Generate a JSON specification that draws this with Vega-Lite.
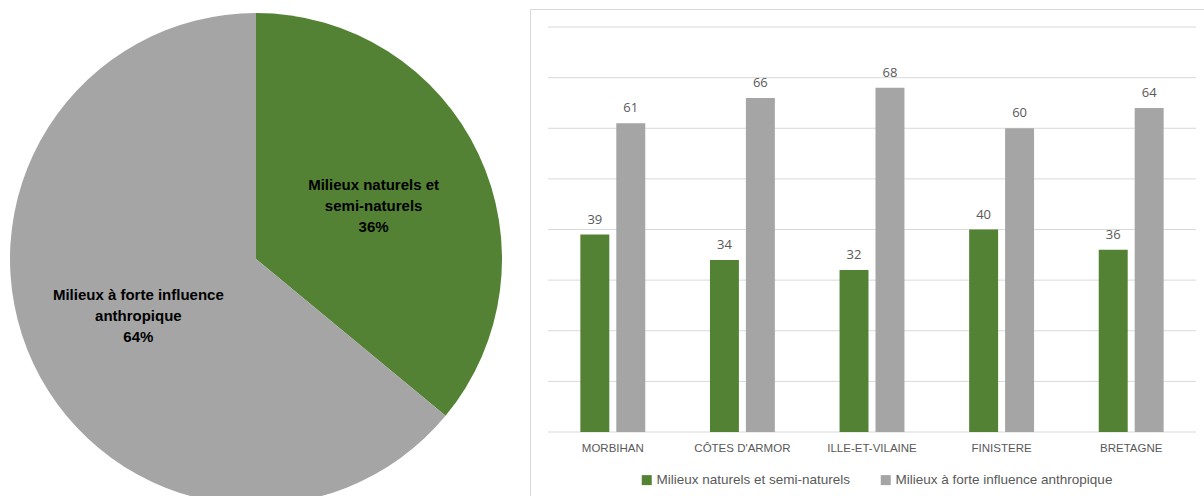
{
  "$schema": "https://vega.github.io/schema/vega-lite/v6.json",
  "padding": {"left": 0, "top": 8, "right": 0, "bottom": 0},
  "background": "white",
  "spacing": 17,
  "config": {"view": {"stroke": null}},
  "resolve": {"scale": {"color": "independent"}, "legend": {"color": "independent"}},
  "datasets": {
    "pie": [
      {"cat": "Milieux naturels et semi-naturels", "value": 36, "label": "Milieux naturels et\nsemi-naturels\n36%"},
      {"cat": "Milieux à forte influence anthropique", "value": 64, "label": "Milieux à forte influence\nanthropique\n64%"}
    ],
    "bars": [
      {"dep": "MORBIHAN", "series": "Milieux naturels et semi-naturels", "value": 39},
      {"dep": "MORBIHAN", "series": "Milieux à forte influence anthropique", "value": 61},
      {"dep": "CÔTES D'ARMOR", "series": "Milieux naturels et semi-naturels", "value": 34},
      {"dep": "CÔTES D'ARMOR", "series": "Milieux à forte influence anthropique", "value": 66},
      {"dep": "ILLE-ET-VILAINE", "series": "Milieux naturels et semi-naturels", "value": 32},
      {"dep": "ILLE-ET-VILAINE", "series": "Milieux à forte influence anthropique", "value": 68},
      {"dep": "FINISTERE", "series": "Milieux naturels et semi-naturels", "value": 40},
      {"dep": "FINISTERE", "series": "Milieux à forte influence anthropique", "value": 60},
      {"dep": "BRETAGNE", "series": "Milieux naturels et semi-naturels", "value": 36},
      {"dep": "BRETAGNE", "series": "Milieux à forte influence anthropique", "value": 64}
    ],
    "grid": [
      {"v": 0}, {"v": 10}, {"v": 20}, {"v": 30}, {"v": 40}, {"v": 50}, {"v": 60}, {"v": 70}, {"v": 80}
    ]
  },
  "hconcat": [
    {
      "width": 512,
      "height": 500,
      "data": {"name": "pie"},
      "encoding": {
        "theta": {"field": "value", "type": "quantitative", "stack": true}
      },
      "layer": [
        {
          "mark": {"type": "arc", "outerRadius": 246, "stroke": null},
          "encoding": {
            "color": {
              "field": "cat",
              "type": "nominal",
              "sort": ["Milieux naturels et semi-naturels", "Milieux à forte influence anthropique"],
              "scale": {
                "domain": ["Milieux naturels et semi-naturels", "Milieux à forte influence anthropique"],
                "range": ["#548235", "#a5a5a5"]
              },
              "legend": null
            }
          }
        },
        {
          "mark": {
            "type": "text",
            "radius": 130,
            "dy": -19,
            "font": "Liberation Sans",
            "fontSize": 15,
            "fontWeight": "bold",
            "lineBreak": "\n",
            "lineHeight": 21,
            "color": "#000000",
            "align": "center",
            "baseline": "middle"
          },
          "encoding": {
            "detail": {"field": "cat", "type": "nominal"},
            "text": {"field": "label", "type": "nominal"}
          }
        }
      ]
    },
    {
      "width": 684,
      "height": 500,
      "view": {"stroke": "#d9d9d9", "strokeWidth": 1},
      "layer": [
        {
          "data": {"name": "grid"},
          "mark": {"type": "rule", "color": "#d9d9d9", "strokeWidth": 1},
          "encoding": {
            "y": {
              "field": "v",
              "type": "quantitative",
              "scale": {"domain": [-15.21, 83.56], "nice": false, "zero": false},
              "axis": null
            },
            "x": {
              "datum": "MORBIHAN",
              "type": "nominal",
              "bandPosition": 0,
              "scale": {
                "domain": ["MORBIHAN", "CÔTES D'ARMOR", "ILLE-ET-VILAINE", "FINISTERE", "BRETAGNE"],
                "paddingInner": 0,
                "paddingOuter": 0.1389
              },
              "axis": {
                "orient": "bottom",
                "offset": -77,
                "domain": false,
                "ticks": false,
                "grid": false,
                "labelPadding": 10,
                "labelAngle": 0,
                "labelFont": "Liberation Sans",
                "labelFontSize": 11.5,
                "labelColor": "#595959",
                "title": null
              }
            },
            "x2": {"datum": "BRETAGNE", "bandPosition": 1}
          }
        },
        {
          "data": {"name": "bars"},
          "mark": {"type": "bar"},
          "encoding": {
            "x": {
              "field": "dep",
              "type": "nominal",
              "sort": null,
              "title": null
            },
            "xOffset": {
              "field": "series",
              "type": "nominal",
              "scale": {
                "domain": ["Milieux naturels et semi-naturels", "Milieux à forte influence anthropique"],
                "paddingInner": 0.1944,
                "paddingOuter": 0.9
              }
            },
            "y": {"field": "value", "type": "quantitative", "axis": null},
            "y2": {"datum": 0},
            "color": {
              "field": "series",
              "type": "nominal",
              "scale": {
                "domain": ["Milieux naturels et semi-naturels", "Milieux à forte influence anthropique"],
                "range": ["#548235", "#a5a5a5"]
              },
              "legend": {
                "orient": "none",
                "legendX": 110,
                "legendY": 464,
                "direction": "horizontal",
                "columns": 2,
                "title": null,
                "padding": 0,
                "symbolType": "square",
                "symbolSize": 100,
                "symbolStrokeWidth": 0,
                "labelFont": "Liberation Sans",
                "labelFontSize": 13.5,
                "labelColor": "#595959",
                "labelOffset": 3,
                "labelLimit": 400,
                "columnPadding": 28
              }
            }
          }
        },
        {
          "data": {"name": "bars"},
          "mark": {
            "type": "text",
            "dy": -15,
            "font": "Open Sans",
            "fontSize": 13,
            "color": "#595959",
            "baseline": "middle"
          },
          "encoding": {
            "x": {"field": "dep", "type": "nominal", "sort": null, "title": null},
            "xOffset": {"field": "series", "type": "nominal"},
            "y": {"field": "value", "type": "quantitative", "axis": null},
            "text": {"field": "value", "type": "quantitative"}
          }
        }
      ]
    }
  ]
}
